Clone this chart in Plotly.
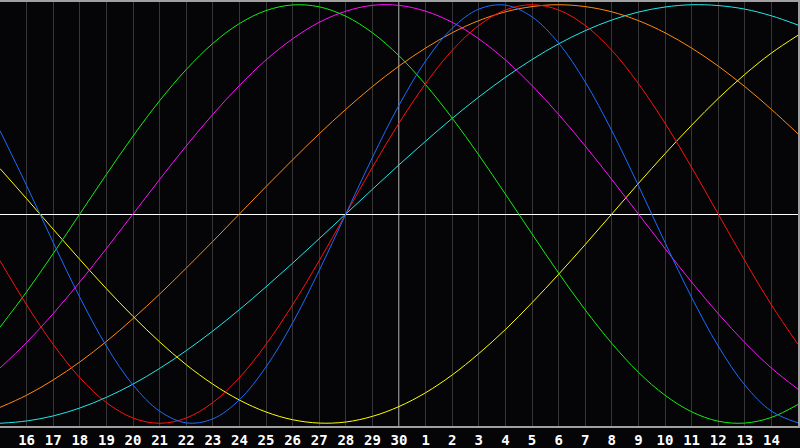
import plotly.graph_objects as go

# day index from left edge (0 = 15th, 15 = 30th, 30 = 15th of next month)
days = list(range(31))
tick_pos = list(range(1, 30))
tick_labels = ["16", "17", "18", "19", "20", "21", "22", "23", "24", "25", "26", "27", "28", "29", "30",
               "1", "2", "3", "4", "5", "6", "7", "8", "9", "10", "11", "12", "13", "14"]

physical = [0.398, 0.136, -0.136, -0.398, -0.631, -0.817, -0.942, -0.998, -0.979, -0.888, -0.731,
            -0.520, -0.270, 0.0, 0.270, 0.520, 0.731, 0.888, 0.979, 0.998, 0.942, 0.817, 0.631,
            0.398, 0.136, -0.136, -0.398, -0.631, -0.817, -0.942, -0.998]
emotional = [-0.223, -0.434, -0.623, -0.782, -0.901, -0.975, -1.0, -0.975, -0.901, -0.782, -0.623,
             -0.434, -0.223, 0.0, 0.223, 0.434, 0.623, 0.782, 0.901, 0.975, 1.0, 0.975, 0.901,
             0.782, 0.623, 0.434, 0.223, 0.0, -0.223, -0.434, -0.623]
intellectual = [-0.541, -0.372, -0.189, 0.0, 0.189, 0.372, 0.541, 0.690, 0.815, 0.910, 0.972,
                0.999, 0.990, 0.945, 0.866, 0.756, 0.618, 0.458, 0.282, 0.095, -0.095, -0.282,
                -0.458, -0.618, -0.756, -0.866, -0.945, -0.990, -0.999, -0.972, -0.910]
intuitive = [-0.736, -0.614, -0.476, -0.325, -0.165, 0.0, 0.165, 0.325, 0.476, 0.614, 0.736,
             0.837, 0.916, 0.969, 0.997, 0.997, 0.969, 0.916, 0.837, 0.736, 0.614, 0.476, 0.325,
             0.165, 0.0, -0.165, -0.325, -0.476, -0.614, -0.736, -0.837]
aesthetic = [0.217, 0.073, -0.073, -0.217, -0.357, -0.489, -0.611, -0.720, -0.813, -0.889, -0.946,
             -0.983, -0.999, -0.994, -0.967, -0.920, -0.854, -0.769, -0.667, -0.552, -0.424,
             -0.288, -0.146, 0.0, 0.146, 0.288, 0.424, 0.552, 0.667, 0.769, 0.854]
awareness = [-0.924, -0.866, -0.793, -0.707, -0.609, -0.5, -0.383, -0.259, -0.131, 0.0, 0.131,
             0.259, 0.383, 0.5, 0.609, 0.707, 0.793, 0.866, 0.924, 0.966, 0.991, 1.0, 0.991,
             0.966, 0.924, 0.866, 0.793, 0.707, 0.609, 0.5, 0.383]
spiritual = [-1.0, -0.989, -0.965, -0.927, -0.876, -0.813, -0.738, -0.653, -0.559, -0.457, -0.348,
             -0.235, -0.118, 0.0, 0.118, 0.235, 0.348, 0.457, 0.559, 0.653, 0.738, 0.813, 0.876,
             0.927, 0.965, 0.989, 1.0, 0.996, 0.979, 0.947, 0.903]

series = [
    ("Spiritual", spiritual, "#20e8e8"),
    ("Awareness", awareness, "#ff8a10"),
    ("Aesthetic", aesthetic, "#ffff00"),
    ("Intuitive", intuitive, "#ff10ff"),
    ("Intellectual", intellectual, "#10f010"),
    ("Emotional", emotional, "#ff1010"),
    ("Physical", physical, "#1a6cff"),
]

fig = go.Figure()
for name, vals, col in series:
    fig.add_trace(go.Scatter(x=days, y=vals, mode="lines", name=name,
                             line=dict(color=col, width=1, shape="spline", smoothing=1.0),
                             hoverinfo="skip"))

fig.add_shape(type="line", xref="x", yref="paper", x0=15, x1=15, y0=0, y1=1,
              line=dict(color="#ffffff", width=1), layer="between")

fig.update_layout(
    width=800, height=448,
    margin=dict(l=0, r=0, t=0, b=20),
    paper_bgcolor="#050507",
    plot_bgcolor="#050507",
    showlegend=False,
    xaxis=dict(range=[0, 30], tickvals=tick_pos, ticktext=tick_labels,
               showgrid=True, gridcolor="#363636", gridwidth=1,
               zeroline=False, showline=True, mirror=True, linecolor="#a0a0a0", linewidth=2,
               ticks="", ticklen=0,
               tickfont=dict(family="DejaVu Sans Mono", size=14, color="#ffffff", weight="bold")),
    yaxis=dict(range=[-1.013, 1.013], showgrid=False, showticklabels=False,
               zeroline=True, zerolinecolor="#ffffff", zerolinewidth=1,
               showline=True, mirror=True, linecolor="#a0a0a0", linewidth=2, ticks=""),
)

fig.write_html("out.html", config={"displayModeBar": False},
               post_script="document.body.style.margin='0';document.body.style.background='#050507';")
